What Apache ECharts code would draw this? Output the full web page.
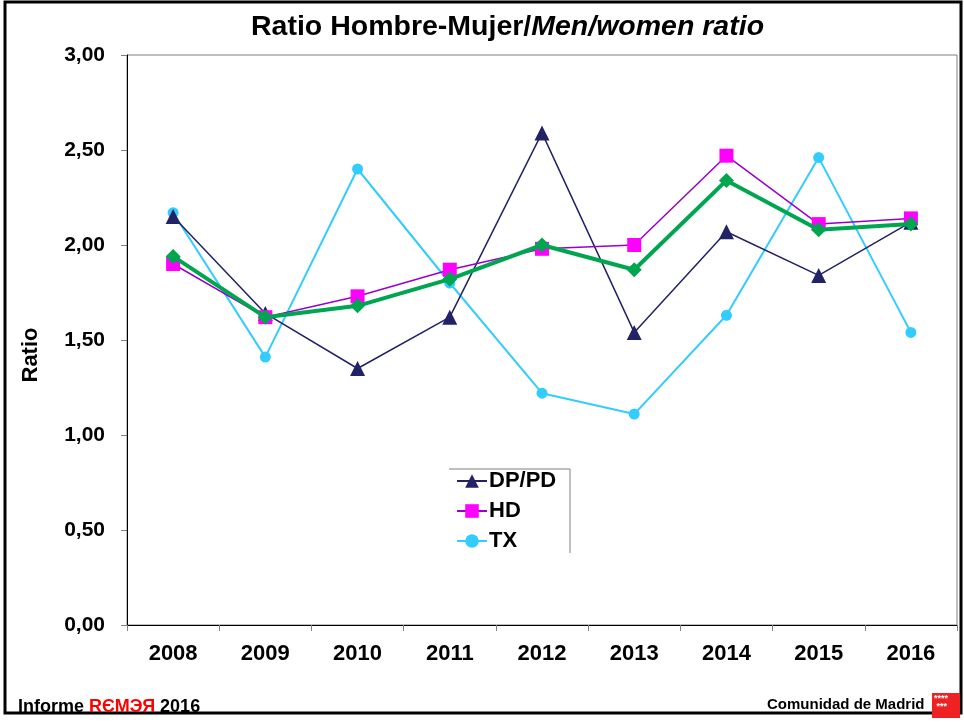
<!DOCTYPE html>
<html>
<head>
<meta charset="utf-8">
<script src="https://cdn.jsdelivr.net/npm/echarts@6/dist/echarts.min.js"></script>
<style>
  html, body { margin: 0; padding: 0; background: #fff; }
  #chartId { width: 964px; height: 726px; }
</style>
</head>
<body>
<div id="chartId"></div>
<script>
// datos
const years = ["2008", "2009", "2010", "2011", "2012", "2013", "2014", "2015", "2016"];
const dpData = [2.15, 1.64, 1.35, 1.62, 2.59, 1.54, 2.07, 1.84, 2.12];
const hdData = [1.90, 1.62, 1.73, 1.87, 1.98, 2.00, 2.47, 2.11, 2.14];
const txData = [2.17, 1.41, 2.40, 1.80, 1.22, 1.11, 1.63, 2.46, 1.54];
const totalData = [1.94, 1.62, 1.68, 1.82, 2.00, 1.87, 2.34, 2.08, 2.11];

const font = "Arial, 'Liberation Sans', sans-serif";
const black = "#000";

let chart = echarts.init(document.getElementById("chartId"));

let option = {
  backgroundColor: "#fff",
  animation: false,
  title: {
    text: "{a|Ratio Hombre-Mujer/}{b|Men/women ratio}",
    left: 246,
    top: 8,
    textStyle: {
      rich: {
        a: { fontFamily: font, fontSize: 28.5, fontWeight: "bold", color: black },
        b: { fontFamily: font, fontSize: 28.5, fontWeight: "bold", fontStyle: "italic", color: black },
      },
    },
  },
  legend: {
    data: ["DP/PD", "HD", "TX"],
    orient: "vertical",
    left: 452,
    top: 468,
    itemWidth: 30,
    itemHeight: 17,
    itemGap: 8,
    padding: [2, 4, 2, 4],
    textStyle: { fontFamily: font, fontSize: 22, fontWeight: "bold", color: black, padding: [0, 0, 0, -3] },
  },
  grid: {
    left: 127,
    top: 55,
    right: 7,
    bottom: 101,
    show: true,
    borderColor: "#808080",
    borderWidth: 1,
  },
  xAxis: {
    type: "category",
    data: years,
    boundaryGap: true,
    axisLine: { lineStyle: { color: black, width: 1 } },
    axisTick: { show: true, length: 6, lineStyle: { color: "#808080" } },
    axisLabel: { fontFamily: font, fontSize: 22, fontWeight: "bold", color: black, margin: 18 },
    splitLine: { show: false },
  },
  yAxis: {
    type: "value",
    min: 0,
    max: 3,
    interval: 0.5,
    axisLine: { show: true, lineStyle: { color: black, width: 1 } },
    axisTick: { show: true, length: 6, lineStyle: { color: "#808080" } },
    axisLabel: {
      fontFamily: font, fontSize: 21, fontWeight: "bold", color: black, margin: 22,
      formatter: (v) => v.toFixed(2).replace(".", ","),
    },
    splitLine: { show: false },
  },
  series: [
    {
      name: "TX",
      type: "line",
      data: txData,
      symbol: "circle",
      symbolSize: 11,
      lineStyle: { color: "#33ccff", width: 2 },
      itemStyle: { color: "#33ccff" },
      z: 2,
    },
    {
      name: "DP/PD",
      type: "line",
      data: dpData,
      symbol: "triangle",
      symbolSize: 15,
      lineStyle: { color: "#222266", width: 1.5 },
      itemStyle: { color: "#222266" },
      z: 3,
    },
    {
      name: "HD",
      type: "line",
      data: hdData,
      symbol: "rect",
      symbolSize: 14,
      lineStyle: { color: "#9900cc", width: 1.5 },
      itemStyle: { color: "#ff00ff" },
      z: 4,
    },
    {
      name: "Total",
      type: "line",
      data: totalData,
      symbol: "diamond",
      symbolSize: 15,
      lineStyle: { color: "#00a550", width: 4 },
      itemStyle: { color: "#00a550" },
      z: 5,
    },
  ],
  graphic: [
    {
      type: "rect",
      shape: { x: 5, y: 2, width: 956, height: 711 },
      style: { fill: "none", stroke: black, lineWidth: 3 },
      silent: true,
    },
    {
      // borde de la leyenda (solo arriba y derecha)
      type: "polyline",
      shape: { points: [[449, 469], [570, 469], [570, 553]] },
      style: { fill: "none", stroke: "#808080", lineWidth: 1 },
      silent: true,
    },
    {
      type: "text",
      x: 31,
      y: 355,
      rotation: Math.PI / 2,
      style: {
        text: "Ratio", fontFamily: font, fontSize: 22, fontWeight: "bold", fill: black,
        align: "center", verticalAlign: "middle",
      },
    },
    {
      type: "text",
      left: 18,
      top: 698,
      style: {
        text: "{k|Informe }{r|RЄMЭЯ}{k| 2016}",
        rich: {
          k: { fontFamily: font, fontSize: 18, fontWeight: "bold", fill: black },
          r: { fontFamily: font, fontSize: 18, fontWeight: "bold", fill: "#ff0000" },
        },
      },
    },
    {
      type: "text",
      left: 767,
      top: 697,
      style: { text: "Comunidad de Madrid", fontFamily: font, fontSize: 15, fontWeight: "bold", fill: black },
    },
    {
      type: "rect",
      shape: { x: 932, y: 693, width: 28, height: 25 },
      style: { fill: "#ee2222" },
    },
    {
      type: "text",
      left: 934,
      top: 694,
      style: { text: "****\n ***", fontFamily: font, fontSize: 9, fontWeight: "bold", fill: "#fff", lineHeight: 8 },
    },
  ],
};

chart.setOption(option);
</script>
</body>
</html>
